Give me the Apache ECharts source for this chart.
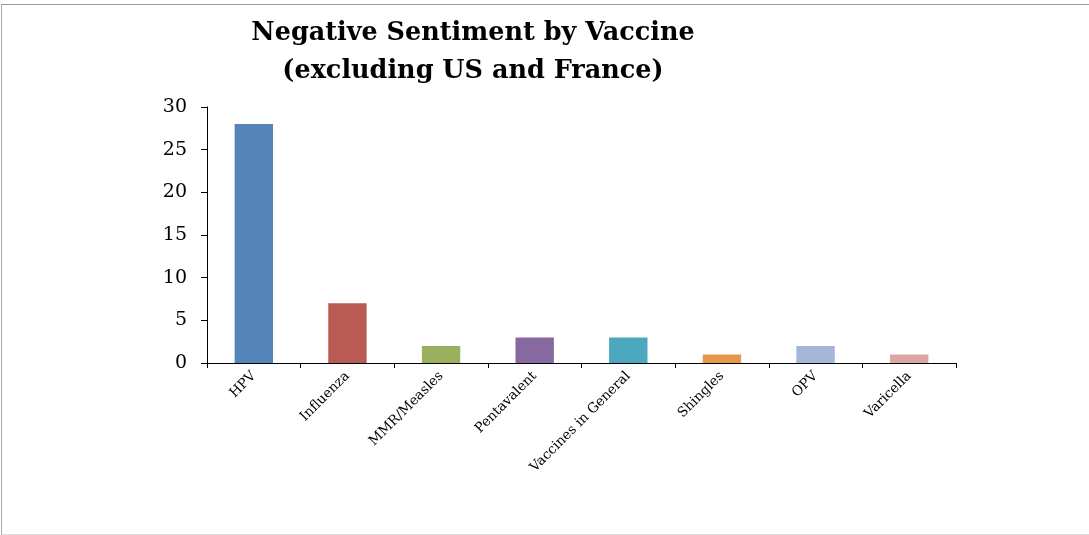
<!DOCTYPE html>
<html><head><meta charset="utf-8">
<script src="https://cdn.jsdelivr.net/npm/echarts@6/dist/echarts.min.js"></script>
<style>
html,body{margin:0;padding:0;background:#fff;}
#frame{position:absolute;left:1px;top:4px;width:1090px;height:529px;border-top:1px solid #999;border-left:1px solid #aaa;border-bottom:1px solid #ddd;}
#c{position:absolute;left:0;top:0;width:1089px;height:535px;}
</style></head><body>
<div id="frame"></div>
<div id="c"></div>
<script>
const categories = ['HPV','Influenza','MMR/Measles','Pentavalent','Vaccines in General','Shingles','OPV','Varicella'];
const values = [28, 7, 2, 3, 3, 1, 2, 1];
const barColors = ['#5585B8','#B95A53','#9BB05E','#8569A0','#4BA8BF','#E8974A','#A4B7D9','#DBA7A5'];
const yTicks = [0,5,10,15,20,25,30];
const titleText = 'Negative Sentiment by Vaccine\n(excluding US and France)';

const font = '"DejaVu Serif", serif';
const chart = echarts.init(document.getElementById('c'), null, {renderer:'canvas'});
chart.setOption({
  animation:false,
  backgroundColor:'transparent',
  title:{text:titleText,left:468,top:9,textAlign:'center',
    textStyle:{fontFamily:font,fontWeight:'bold',fontSize:25.5,color:'#000',lineHeight:38}},
  grid:{left:207,right:133,top:107,bottom:172,containLabel:false},
  xAxis:{type:'category',data:categories,
    axisLine:{lineStyle:{color:'#000',width:1}},
    axisTick:{show:true,alignWithLabel:false,length:5,lineStyle:{color:'#000'}},
    axisLabel:{rotate:45,interval:0,margin:11,fontFamily:font,fontSize:13.5,color:'#000'}},
  yAxis:{type:'value',min:0,max:30,interval:5,
    axisLine:{show:true,lineStyle:{color:'#000'}},
    axisTick:{show:true,length:6,lineStyle:{color:'#000'}},
    splitLine:{show:false},
    axisLabel:{fontFamily:font,fontSize:19,color:'#000',margin:20,
      formatter:v=>yTicks.includes(v)?String(v):''}},
  series:[{type:'bar',barWidth:'41%',
    data:values.map((v,i)=>({value:v,itemStyle:{color:barColors[i]}}))}]
});
</script></body></html>
